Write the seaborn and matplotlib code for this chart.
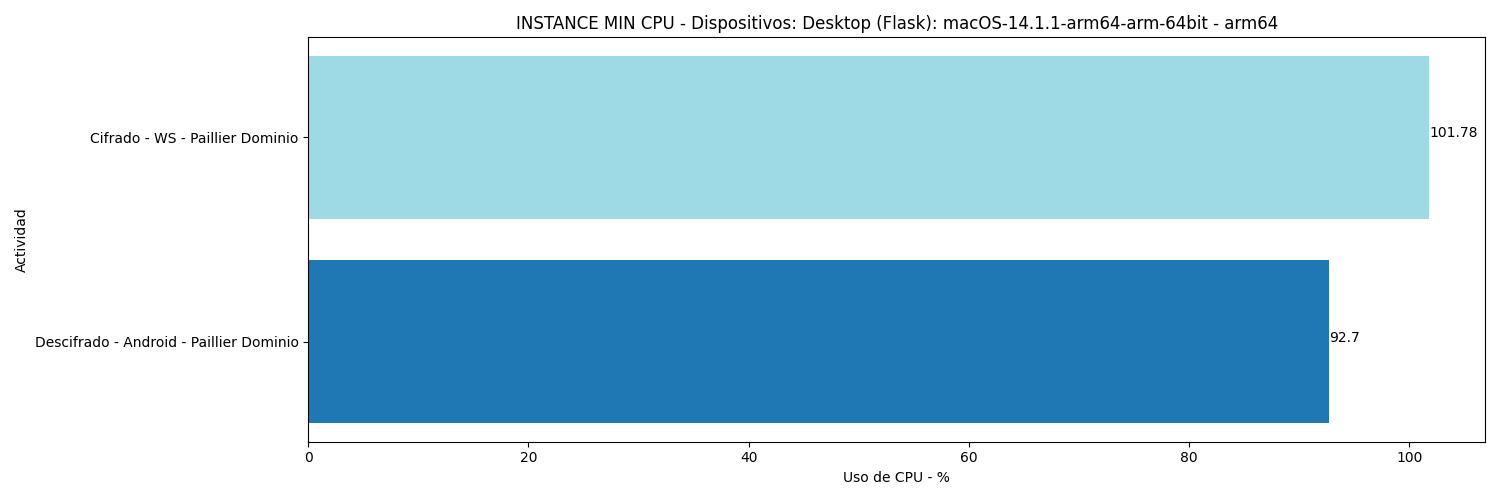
import matplotlib
matplotlib.use("Agg")
import matplotlib.pyplot as plt
import seaborn as sns
import pandas as pd

# Datos
actividades = ["Cifrado - WS - Paillier Dominio", "Descifrado - Android - Paillier Dominio"]
uso_cpu = [101.78, 92.7]
colores = ["#9edae5", "#1f77b4"]

df = pd.DataFrame({"Actividad": actividades, "CPU": uso_cpu})

fig, ax = plt.subplots(figsize=(15, 5), dpi=100)
sns.barplot(data=df, x="CPU", y="Actividad", hue="Actividad", palette=colores,
            orient="h", legend=False, saturation=1, ax=ax)

for i, v in enumerate(uso_cpu):
    ax.text(v, i, str(v))

# margen vertical como en barh de matplotlib (5% del rango de barras)
n = len(actividades)
pad = 0.05 * (n - 1 + 0.8)
ax.set_ylim(n - 1 + 0.4 + pad, -0.4 - pad)

ax.set_xlabel("Uso de CPU - %")
ax.set_ylabel("Actividad")
ax.set_title("INSTANCE MIN CPU - Dispositivos: Desktop (Flask): macOS-14.1.1-arm64-arm-64bit - arm64")

plt.tight_layout()
plt.savefig("out.png")
